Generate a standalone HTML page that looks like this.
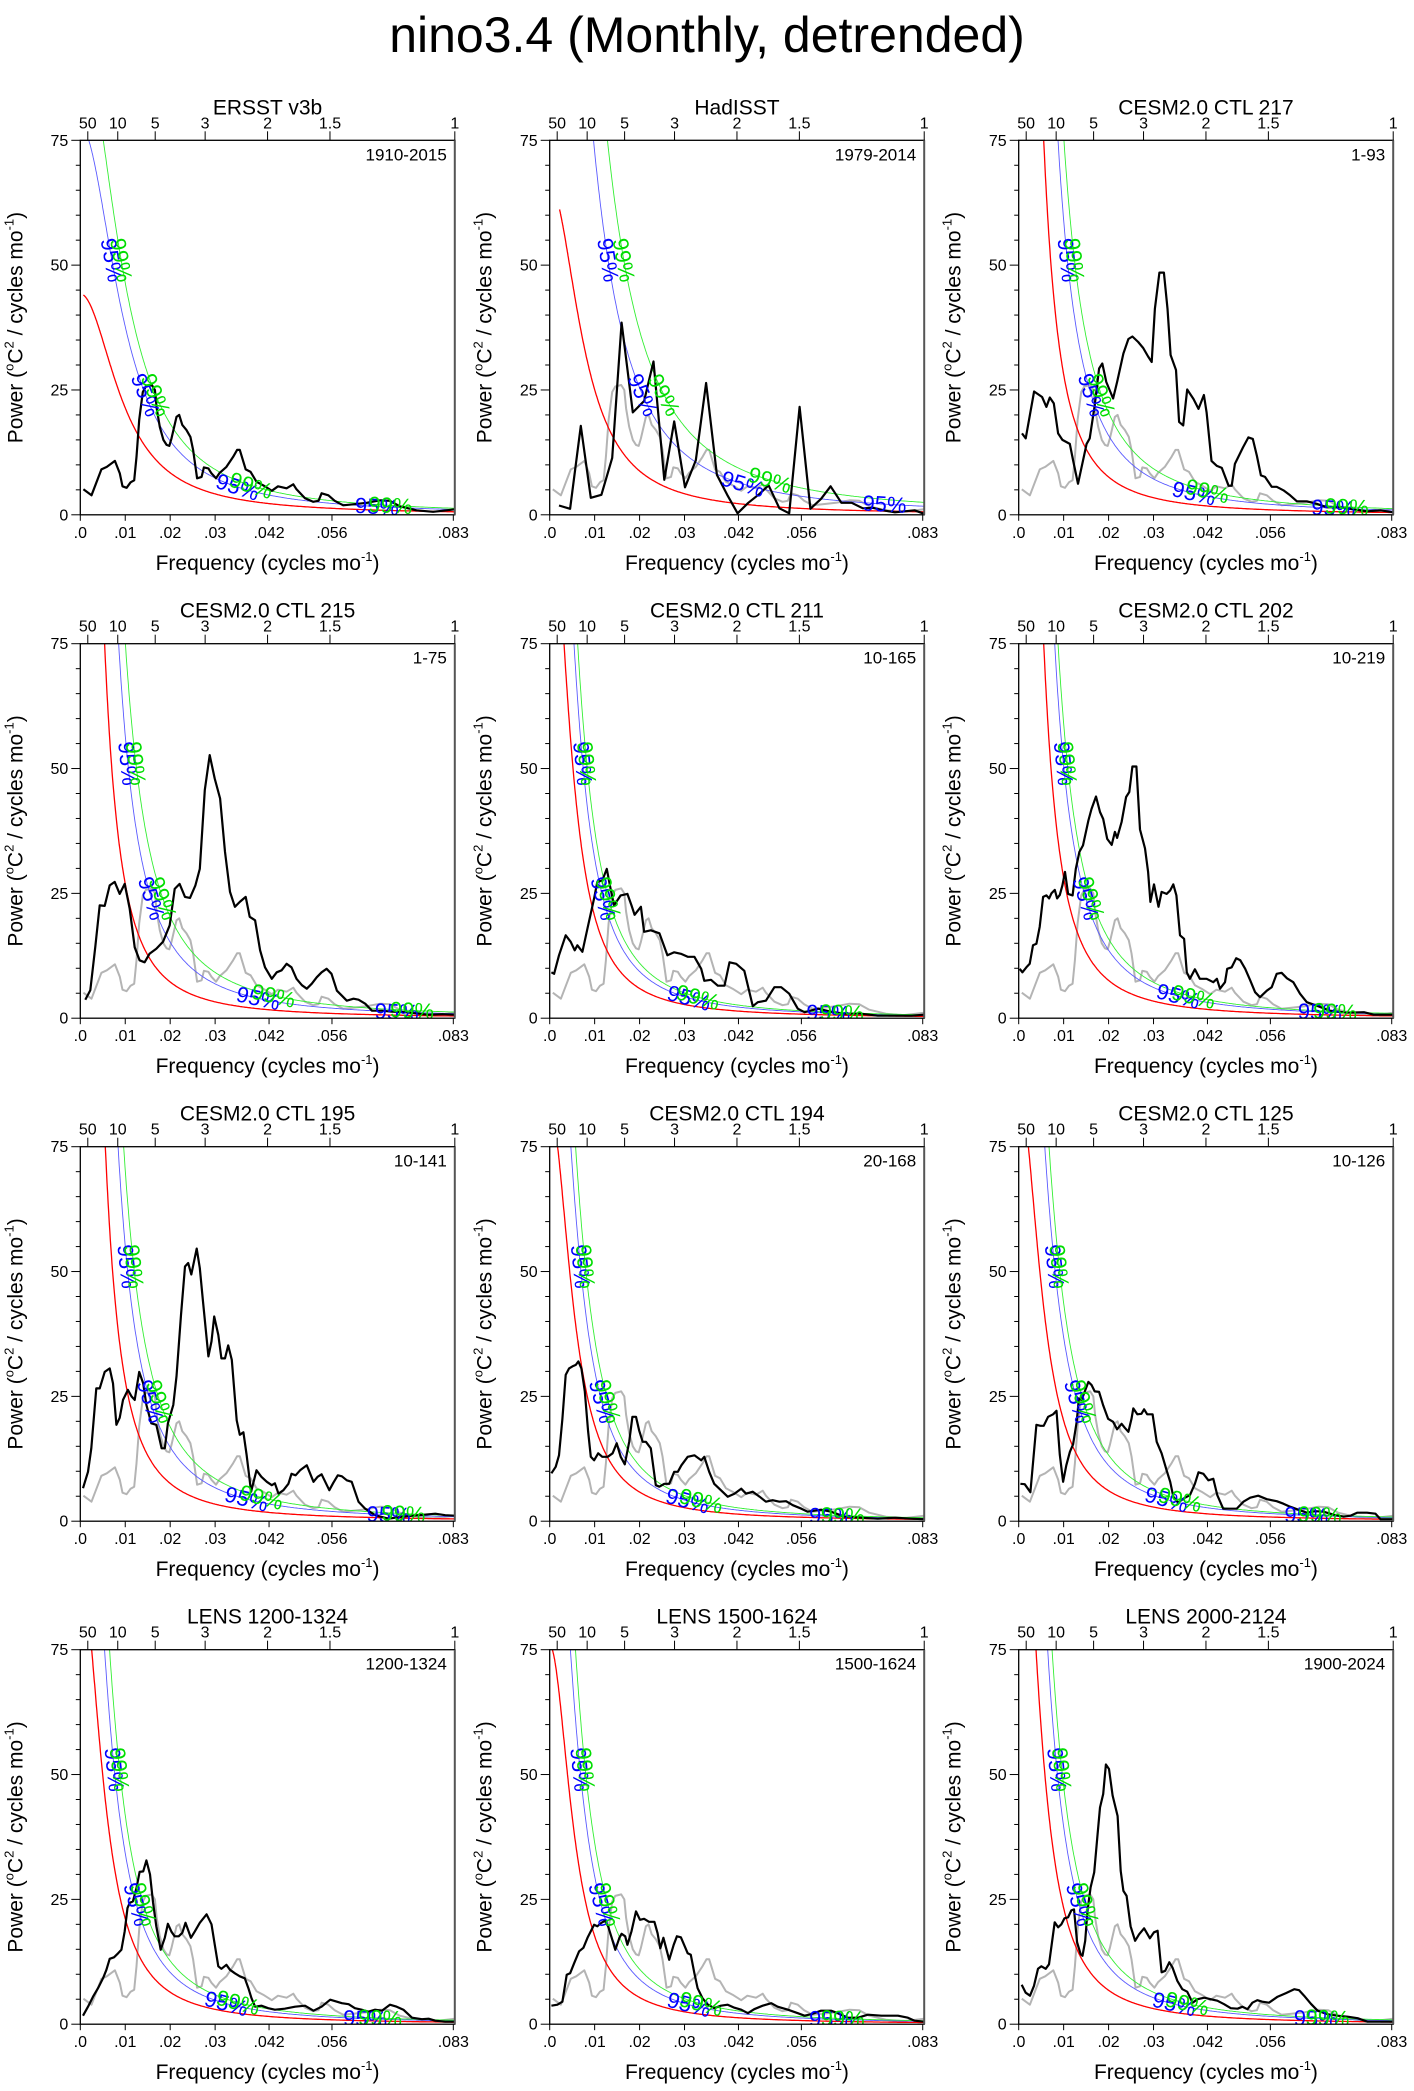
<!DOCTYPE html>
<html><head><meta charset="utf-8"><title>nino3.4 (Monthly, detrended)</title>
<style>
html,body{margin:0;padding:0;background:#fff;}
svg{display:block;font-family:"Liberation Sans",Arial,sans-serif;}
</style></head>
<body>
<svg id="fig" width="1414" height="2091" viewBox="0 0 1414 2091" xmlns="http://www.w3.org/2000/svg">
<rect x="0" y="0" width="1414" height="2091" fill="#fff"/>
<text x="707" y="52" font-size="50" text-anchor="middle" fill="#000">nino3.4 (Monthly, detrended)</text>
</svg>
<script>
// ---- data (frequency in 1e-3 cycles/mo, power in degC^2/(cycles/mo)) ----
const fERSST=[0.7,2.5,4.7,5.9,7.7,8.8,9.4,10.3,11.2,12.0,12.5,13.1,13.9,14.6,15.9,16.6,17.0,17.7,18.5,19.2,19.8,20.3,21.4,22.0,22.7,23.6,24.5,25.1,26.0,27.0,27.5,28.5,29.2,30.2,31.0,32.5,34.0,34.9,35.5,36.8,37.9,39.2,40.7,42.6,44.0,45.9,47.4,48.1,50.0,51.8,53.0,53.7,55.2,56.6,58.5,60.7,63.7,66.7,68.9,71.1,74.8,78.5,81.5,83.3];
const pERSST=[5.1,3.9,9.1,9.6,10.8,8.3,5.7,5.4,6.5,6.9,11.6,19,24.6,25.7,26,25,21.3,17.6,15,14,13.8,15.3,19.6,20,18,17,15.6,13,7.3,7.6,9.5,9.3,8.3,7.3,8.4,9.6,11.6,13,13,9.1,8.6,6.6,5.9,4.8,5.7,5.3,6.1,5.1,3.3,2.6,2.8,4.3,3.9,2.8,1.9,2.1,2.4,2.9,2.8,1.7,0.9,0.6,0.9,1.1];
const fHad=[2.08,4.53,6.91,9.14,11.5,13.9,16.0,18.5,21.0,23.1,25.5,27.7,30.1,32.5,34.8,37.2,39.5,41.8,44.2,46.7,48.7,51.1,53.3,55.6,58.0,60.4,62.5,64.9,67.2,69.7,71.9,74.2,76.8,79.0,81.2,83.3];
const pHad=[1.87,1.2,17.8,3.4,4.0,11.4,38.5,20.5,22.8,30.7,7.0,18.7,5.5,10.9,26.4,8.0,4.0,0.3,2.4,4.2,5.9,1.3,0.3,21.6,1.2,3.2,5.7,2.4,2.4,1.3,1.4,0.9,0.5,0.7,0.9,0.2];
const f217=[0.74,1.56,3.42,5.20,6.17,6.91,7.80,8.77,9.73,11.37,12.1,13.2,15.1,15.8,16.9,17.9,18.6,19.5,21.0,21.9,23.3,24.4,25.3,26.6,27.7,28.8,29.6,30.3,31.3,32.3,33.1,33.8,35.0,35.7,36.6,37.5,38.9,40.0,41.2,41.8,42.9,44.1,45.2,46.7,47.4,48.1,49.9,51.1,52.1,53.0,53.9,54.8,56.3,57.4,58.9,60.4,61.9,64.1,66.3,68.6,71.6,74.5,77.5,80.5,83.3];
const p217=[16.3,15.3,24.7,23.6,21.6,23.5,22.3,16.3,15.0,14.2,10.9,6.2,14.2,15.3,21.9,29.3,30.3,26.6,23.3,26.6,32.3,35.2,35.7,34.6,33.4,31.7,30.6,41.3,48.5,48.5,41.3,32.0,29.0,18.6,17.9,25.1,23.2,21.2,24.0,20.5,10.8,9.8,9.4,5.8,5.8,10.2,13.5,15.5,15.2,11.8,7.9,7.6,5.6,5.6,4.9,3.9,2.7,2.7,2.2,1.5,1.5,1.1,0.7,0.9,0.5];
const f215=[1.11,2.23,3.34,4.31,5.42,6.54,7.65,8.77,9.88,11.0,12.1,13.2,14.3,15.4,16.9,18.4,19.9,21.0,22.1,23.3,24.4,25.6,26.6,27.7,28.8,29.9,31.1,32.2,33.3,34.4,35.5,36.8,37.7,38.9,40.0,41.1,42.6,43.7,44.8,45.9,47.0,48.1,49.3,50.4,51.5,52.6,53.7,54.8,55.9,57.1,58.2,59.3,60.8,61.9,63.4,64.9,67.1,69.3,72.3,75.3,77.5,80.5,83.3];
const p215=[3.7,5.6,14.3,22.6,22.5,26.6,27.3,24.9,26.9,21.9,14.2,11.6,11.2,12.9,13.9,15.3,18.6,25.9,26.9,24.3,24.1,26.6,29.9,45.7,52.7,48.0,44.0,33.3,25.3,22.3,23.3,24.3,20.3,19.6,13.6,10.2,7.9,9.2,9.6,10.9,10.2,7.9,6.6,5.9,6.9,8.2,9.2,9.9,8.9,5.5,4.5,3.5,3.9,3.7,2.9,1.5,1.5,1.3,1.2,0.9,0.7,0.8,0.7];
const f211=[0.37,0.97,2.08,3.57,4.68,5.57,6.17,7.28,8.40,9.88,10.6,11.7,12.7,13.4,14.3,15.8,17.3,18.2,18.9,20.3,21.0,22.5,24.4,26.2,27.7,29.2,30.7,32.2,33.7,34.4,35.9,37.4,38.9,40.0,41.5,43.3,45.2,46.3,48.1,50.0,51.5,53.3,55.2,56.7,59.7,62.6,65.6,69.3,73.0,76.8,80.5,83.3];
const p211=[9.2,8.9,12.6,16.6,15.3,13.6,14.6,13.3,18.0,24.0,27.3,27.6,29.9,26.6,22.6,24.6,24.9,22.6,20.7,22.3,17.3,17.6,17.0,12.6,13.2,12.9,12.3,12.3,9.9,7.5,7.7,6.5,6.5,11.2,10.9,9.5,2.4,3.2,3.5,6.2,6.2,4.9,1.9,1.2,1.9,1.3,0.9,0.9,0.5,0.5,0.5,0.7];
const f202=[0.22,0.82,1.71,2.45,3.19,3.94,4.68,5.42,6.17,6.76,7.28,8.03,8.55,9.14,9.73,10.3,11.0,12.0,12.7,13.5,14.3,15.5,16.2,17.2,18.1,18.8,19.7,20.7,21.4,21.9,22.9,23.9,24.6,25.3,26.2,27.0,28.1,28.8,29.3,30.1,31.1,31.8,32.9,33.7,34.4,35.1,35.9,36.8,37.4,38.1,39.2,40.3,41.8,43.3,44.1,44.8,45.9,46.4,47.4,48.4,49.3,50.4,51.5,52.6,53.7,55.2,56.3,57.4,58.5,59.7,61.1,62.6,64.1,66.3,69.3,73.0,76.8,79.0,81.2,83.3];
const p202=[9.9,9.2,10.2,10.9,14.6,14.9,18.3,24.3,24.6,24.0,25.0,25.7,24.0,24.7,26.6,29.3,24.9,24.6,29.9,33.3,34.6,39.6,41.9,44.4,41.3,39.9,35.9,34.7,37.3,36.1,39.3,44.3,45.3,50.4,50.4,37.8,34.0,29.3,23.3,26.8,22.3,25.3,24.9,25.6,26.8,24.6,16.6,15.9,9.2,7.9,9.8,7.9,7.9,7.2,7.9,5.9,7.2,9.9,10.2,12.0,11.6,9.9,7.6,5.2,4.2,5.5,6.2,8.9,9.1,8.0,7.2,4.9,3.2,2.5,1.5,1.1,1.2,0.7,0.7,0.7];
const f195=[0.59,1.71,2.45,3.57,4.31,5.42,6.54,7.28,8.03,8.77,9.51,10.6,11.4,12.1,13.1,14.0,14.7,15.8,16.9,18.1,18.8,19.5,20.7,21.4,22.4,23.3,24.0,24.7,25.9,26.6,27.3,28.5,29.2,29.8,30.7,31.4,32.2,32.9,33.7,34.8,35.5,36.3,37.0,38.0,39.2,40.3,41.5,42.6,43.3,44.1,45.2,46.3,47.0,47.9,48.9,50.4,51.9,52.8,53.7,55.4,56.3,57.3,58.2,59.3,60.4,61.9,63.4,65.6,68.6,71.6,75.3,79.0,81.2,83.3];
const p195=[6.6,9.9,14.6,26.6,26.6,29.9,30.6,27.6,19.3,20.7,24.3,26.3,25.0,24.3,29.9,27.6,23.3,19.6,19.3,14.6,14.6,19.6,23.3,29.0,41.3,51.0,51.7,49.4,54.6,50.7,44.0,33.0,36.0,41.0,37.3,32.6,32.6,35.2,32.3,20.2,17.3,17.8,13.3,5.9,10.2,8.9,7.9,7.2,7.6,5.5,6.2,7.5,9.5,9.2,10.2,11.2,7.9,8.9,9.4,6.2,7.7,9.2,9.0,8.2,7.9,3.9,2.5,1.2,0.5,0.9,1.2,1.5,1.2,1.1];
const f194=[0.37,1.34,2.08,2.82,3.57,4.31,5.05,5.80,6.39,7.06,7.80,8.55,9.14,9.88,10.8,11.7,12.9,14.0,14.9,15.8,16.7,17.7,18.4,19.2,19.9,20.7,21.4,22.5,23.6,24.4,25.5,26.6,27.7,28.5,29.3,30.7,32.2,33.7,34.4,35.5,36.6,38.1,39.6,41.1,42.6,43.7,45.2,46.7,48.1,49.6,51.1,52.6,54.1,56.0,57.4,60.4,62.6,65.6,69.3,73.0,76.8,80.5,83.3];
const p194=[9.6,10.9,13.2,20.5,29.3,30.6,31.0,31.3,32.0,30.6,26.0,18.0,12.9,12.2,13.6,12.9,12.9,13.6,15.6,12.9,11.4,15.9,20.9,20.9,18.2,15.9,15.9,14.6,7.2,6.9,7.5,7.5,9.9,9.9,11.2,12.9,13.2,12.2,12.9,9.9,7.5,6.2,4.9,5.5,6.5,5.5,5.9,4.9,3.9,4.2,3.9,4.0,3.2,2.5,1.9,2.3,1.9,0.9,0.7,0.5,0.7,0.5,0.4];
const f125=[0.37,1.34,2.60,3.94,4.83,5.57,6.54,7.65,8.40,9.14,9.88,10.6,11.4,12.1,12.9,13.4,14.0,14.7,15.5,16.2,16.9,17.9,18.8,19.9,21.0,21.9,22.9,23.6,24.4,25.1,25.5,26.4,27.3,27.9,28.6,29.8,30.7,31.8,32.9,33.7,34.4,35.5,36.6,38.1,39.2,40.0,41.1,42.2,43.3,44.2,45.5,47.0,48.5,50.0,51.5,53.3,55.2,57.4,58.9,60.4,61.9,64.1,66.0,67.8,70.1,72.3,73.8,75.3,77.5,79.4,80.5,83.3];
const p125=[7.5,7.4,5.8,19.3,19.1,19.1,20.9,21.4,22.1,13.3,7.9,11.2,13.9,15.4,19.9,24.6,24.3,26.0,27.9,27.3,26.0,25.9,23.2,20.5,19.9,18.4,19.5,18.7,17.9,20.5,22.6,21.4,21.5,22.4,21.4,21.4,15.9,13.6,10.2,7.9,4.9,3.7,4.5,5.2,7.5,9.8,9.5,8.2,8.5,5.2,2.5,2.5,2.5,3.9,4.7,5.1,4.4,4.0,3.5,2.9,2.4,1.7,2.0,1.9,1.3,0.9,1.1,1.7,1.7,1.5,0.4,0.4];
const fL1200=[0.59,1.71,2.82,3.94,5.05,5.80,6.54,7.50,8.40,9.14,9.88,10.5,11.0,11.7,12.5,13.2,14.0,14.7,15.5,16.2,16.9,17.9,18.8,19.5,20.3,21.0,21.9,22.7,23.4,24.6,25.5,26.6,28.1,29.2,29.9,30.7,31.4,32.5,33.3,34.4,35.5,36.6,37.4,38.1,38.9,40.3,41.8,43.3,45.5,47.8,50.0,51.9,53.7,55.6,57.1,58.2,59.7,61.1,62.6,64.1,65.6,67.1,68.9,70.4,71.9,73.8,76.0,77.5,79.0,81.2,83.3];
const pL1200=[1.7,3.5,5.5,7.2,9.2,10.9,13.1,13.4,14.2,14.9,18.6,23.3,24.3,24.6,27.3,30.5,30.6,32.8,30.0,24.3,19.6,14.9,17.3,20.1,18.5,17.6,17.6,18.3,20.3,17.3,18.6,20.3,22.0,20.0,16.0,11.6,11.1,11.9,10.9,10.2,9.6,9.2,7.2,5.2,3.5,3.7,3.2,2.9,3.1,3.5,3.7,2.7,3.5,4.9,4.5,4.2,4.0,3.2,2.9,2.5,2.9,2.7,3.9,3.5,2.9,1.3,1.0,1.1,0.7,0.5,0.5];
const fL1500=[0.37,1.71,2.82,3.79,4.53,5.42,6.54,7.50,8.40,9.14,9.88,10.6,11.5,12.3,13.0,13.8,14.6,15.5,16.0,16.8,17.3,18.2,19.2,20.1,21.0,22.1,23.3,24.0,24.6,25.3,26.6,27.6,28.3,29.2,29.9,30.7,31.4,32.2,32.9,34.0,35.1,36.6,38.1,39.6,41.1,42.6,44.1,45.5,47.4,49.3,50.7,53.0,55.2,56.7,58.2,60.4,62.6,64.1,66.3,68.6,70.8,73.8,77.5,79.7,81.2,83.3];
const pL1500=[3.7,3.9,4.5,9.9,10.2,12.2,14.6,15.3,17.3,18.6,19.9,19.6,20.3,20.7,19.6,17.3,14.9,17.3,18.1,17.6,15.9,18.6,22.6,20.9,21.1,20.5,20.5,18.2,15.2,17.3,12.9,15.9,17.6,17.4,15.9,14.2,13.9,10.2,7.2,5.2,4.0,3.2,3.7,3.9,3.3,2.9,2.2,3.0,3.7,4.2,3.5,2.9,2.2,1.7,2.0,2.7,2.7,2.2,1.3,1.3,1.9,1.7,1.7,1.3,0.7,0.5];
const fL2000=[0.67,1.56,2.52,3.41,4.30,5.05,6.01,6.75,8.01,8.76,9.50,10.2,11.0,11.7,12.3,13.0,13.8,14.2,14.8,15.3,16.0,16.8,17.5,18.1,18.8,19.4,20.1,20.9,22.0,22.7,23.3,24.0,24.9,25.9,26.8,27.9,29.2,30.1,30.9,31.8,32.6,33.5,34.2,35.3,36.4,37.5,38.7,39.8,41.3,42.7,44.2,45.7,47.2,48.7,49.8,50.9,52.0,53.1,54.2,55.7,57.6,59.4,61.3,62.4,63.5,65.0,66.5,68.7,70.9,73.2,75.4,77.6,80.6,83.3];
const pL2000=[7.9,6.3,5.7,7.7,11.1,11.6,11.1,12.0,20.4,19.4,20.0,21.2,21.4,22.8,23.0,16.4,14.0,13.7,16.7,22.7,27.4,30.4,37.4,43.4,46.1,52.0,51.1,45.8,41.7,30.7,26.7,25.7,19.6,16.7,18.0,19.2,17.2,18.4,18.7,10.4,10.7,12.4,11.4,8.7,7.0,6.5,4.3,5.0,5.3,5.0,4.7,4.0,3.2,3.1,3.5,3.0,4.3,4.8,4.5,4.3,5.5,6.2,7.0,6.8,5.7,4.1,2.7,2.0,1.7,1.5,1.2,0.5,0.5,0.5];

// panel meta
const panelTitles=["ERSST v3b","HadISST","CESM2.0 CTL 217","CESM2.0 CTL 215","CESM2.0 CTL 211","CESM2.0 CTL 202","CESM2.0 CTL 195","CESM2.0 CTL 194","CESM2.0 CTL 125","LENS 1200-1324","LENS 1500-1624","LENS 2000-2124"];
const panelPeriods=["1910-2015","1979-2014","1-93","1-75","10-165","10-219","10-141","20-168","10-126","1200-1324","1500-1624","1900-2024"];
const panelFreq=[fERSST,fHad,f217,f215,f211,f202,f195,f194,f125,fL1200,fL1500,fL2000];
const panelPower=[pERSST,pHad,p217,p215,p211,p202,p195,p194,p125,pL1200,pL1500,pL2000];
// AR1 red-noise parameters (lag-1 autocorrelation, scale) and confidence multipliers
const redR=[0.941,0.952,0.98,0.98,0.97,0.98,0.98,0.966,0.966,0.966,0.966,0.97];
const redC=[0.154,0.152,0.12,0.115,0.0965,0.12,0.12,0.0956,0.10,0.105,0.0877,0.11];
const conf95=[1.76,2.9,2.1,2.1,1.57,1.8,1.96,1.57,1.83,1.62,1.68,1.7];
const conf99=[2.17,4.2,2.7,2.8,1.85,2.1,2.5,1.9,2.17,1.98,2.06,2.05];
const redStart=[0.7,2.2,0.5,0.5,0.5,0.5,0.5,0.5,0.5,0.5,0.5,0.5];
const lab3b=[35,43,39,39.6,31,35.5,37,30.7,32.9,32.5,31,34.6];
const lab3g=[38,49,42,43,33,38.9,40.3,33.7,35.9,35.1,33.7,37.5];
const lab4b=[66,74.5,70,70.4,62,67,68.6,62.6,64,63.4,62.6,66.1];
const lab4g=[69,0,73,73.8,65,70.4,71.9,65.2,67,66.7,65.2,68.7];
const yTicks=[0,25,50,75];
const xTicks=[0,0.01,0.02,0.03,0.042,0.056,0.083];
const xTickLabels=[".0",".01",".02",".03",".042",".056",".083"];
const periodTicks=[50,10,5,3,2,1.5,1];

// ---- drawing ----
const NS="http://www.w3.org/2000/svg";
const svg=document.getElementById('fig');
const colL=[80.3,549.7,1018.7], rowT=[140.3,643.7,1146.7,1649.7];
const W=374.5, H=374.5, FMAX=0.08333, YMAX=75;
function mk(tag,attrs,parent){const e=document.createElementNS(NS,tag);for(const k in attrs)e.setAttribute(k,attrs[k]);(parent||svg).appendChild(e);return e;}
function red(i,f){const r=redR[i];return redC[i]/(1+r*r-2*r*Math.cos(2*Math.PI*f));}

panelTitles.forEach((title,i)=>{
  const L=colL[i%3], T=rowT[Math.floor(i/3)];
  const xS=f=>L+f/FMAX*W;
  const yS=v=>T+H-v/YMAX*H;
  const g=mk('g',{});
  
  
  const cp=mk('clipPath',{id:'clip'+i},g);
  mk('rect',{x:L,y:T,width:W,height:H},cp);
  const plot=mk('g',{'clip-path':'url(#clip'+i+')'},g);
  
  

  if(i>0){
    let d='';fERSST.forEach((f,k)=>{d+=(k?'L':'M')+xS(f/1000).toFixed(1)+','+yS(pERSST[k]).toFixed(1);});
    const gl=mk('path',{d:d,fill:'none',stroke:'#b4b4b4','stroke-width':2,'stroke-linejoin':'round'},plot);
    
    
  }
  const curves=[[1,'#ff0000',1.3,'red-noise-line'],[conf95[i],'#5a5aff',0.9,'conf-95-line'],[conf99[i],'#33ee33',0.9,'conf-99-line']];
  curves.forEach(c=>{
    let d='';const f0=redStart[i]/1000;
    for(let k=0;k<=400;k++){const f=f0+(FMAX-f0)*Math.pow(k/400,1.6);let v=red(i,f)*c[0];if(v>200)v=200;d+=(k?'L':'M')+xS(f).toFixed(1)+','+yS(v).toFixed(1);}
    const p=mk('path',{d:d,fill:'none',stroke:c[1],'stroke-width':c[2]},plot);
    
    
  });
  const fa=panelFreq[i], pa=panelPower[i];
  let d='';const n=Math.min(fa.length,pa.length);
  for(let k=0;k<n;k++){d+=(k?'L':'M')+xS(fa[k]/1000).toFixed(1)+','+yS(pa[k]).toFixed(1);}
  const bl=mk('path',{d:d,fill:'none',stroke:'#000','stroke-width':2.2,'stroke-linejoin':'round'},plot);
  
  

  function fAt(mult,V){let lo=0.0002,hi=FMAX;for(let k=0;k<60;k++){const m=(lo+hi)/2;if(red(i,m)*mult>V)lo=m;else hi=m;}return (lo+hi)/2;}
  function label(mult,f,txt,col){
    if(f<=0||f>FMAX)return;
    const x=xS(f),y=yS(red(i,f)*mult);
    const x2=xS(f+0.0003),y2=yS(red(i,f+0.0003)*mult);
    const ang=Math.atan2(y2-y,x2-x)*180/Math.PI;
    const t=mk('text',{x:x,y:y,'font-size':22,fill:col,'text-anchor':'middle','dominant-baseline':'central',transform:'rotate('+ang.toFixed(1)+' '+x.toFixed(1)+' '+y.toFixed(1)+')'},plot);
    t.textContent=txt;
    
    
  }
  label(conf95[i],fAt(conf95[i],51),'95%','#0000ff');
  label(conf99[i],fAt(conf99[i],51),'99%','#00dd00');
  label(conf95[i],fAt(conf95[i],24),'95%','#0000ff');
  label(conf99[i],fAt(conf99[i],24),'99%','#00dd00');
  label(conf95[i],lab3b[i]/1000,'95%','#0000ff');
  label(conf99[i],lab3g[i]/1000,'99%','#00dd00');
  label(conf95[i],lab4b[i]/1000,'95%','#0000ff');
  if(lab4g[i]>0)label(conf99[i],lab4g[i]/1000,'99%','#00dd00');

  const fr=mk('rect',{x:L,y:T,width:W,height:H,fill:'none',stroke:'#000','stroke-width':1.3},g);
  
  
  mk('line',{x1:L+W,y1:T,x2:L+W,y2:T+H,stroke:'#555','stroke-width':2},g);

  for(let v=0;v<=75;v+=5){const y=yS(v);const major=yTicks.includes(v);mk('line',{x1:L-(major?9:4.5),y1:y,x2:L,y2:y,stroke:'#000','stroke-width':1},g);}
  yTicks.forEach(v=>{const t=mk('text',{x:L-12,y:yS(v)+5.5,'font-size':16,'text-anchor':'end',fill:'#000'},g);t.textContent=String(v);
    
    });
  xTicks.forEach((f,k)=>{const x=xS(f);mk('line',{x1:x,y1:T+H,x2:x,y2:T+H+6,stroke:'#000','stroke-width':1},g);
    const t=mk('text',{x:x,y:T+H+23,'font-size':16,'text-anchor':'middle',fill:'#000'},g);t.textContent=xTickLabels[k];
    
    });
  periodTicks.forEach(p=>{const x=xS(1/(12*p));mk('line',{x1:x,y1:T-9,x2:x,y2:T,stroke:'#000','stroke-width':1},g);
    const t=mk('text',{x:x,y:T-12,'font-size':16,'text-anchor':'middle',fill:'#000'},g);t.textContent=String(p);
    
    });
  const tt=mk('text',{x:L+W/2,y:T-26,'font-size':21,'text-anchor':'middle',fill:'#000'},g);tt.textContent=title;
  
  
  const pt=mk('text',{x:L+W-8,y:T+20,'font-size':17,'text-anchor':'end',fill:'#000'},g);pt.textContent=panelPeriods[i];
  
  
  const xt=mk('text',{x:L+W/2,y:T+H+55,'font-size':21,'text-anchor':'middle',fill:'#000'},g);
  
  
  xt.innerHTML='Frequency (cycles mo<tspan dy="-9" font-size="13">-1</tspan><tspan dy="9">)</tspan>';
  const yx=L-58, yy=T+H/2;
  const yt=mk('text',{x:yx,y:yy,'font-size':21,'text-anchor':'middle',fill:'#000',transform:'rotate(-90 '+yx+' '+yy+')'},g);
  
  
  yt.innerHTML='Power (<tspan dy="-9" font-size="13">o</tspan><tspan dy="9">C</tspan><tspan dy="-9" font-size="13">2</tspan><tspan dy="9"> / cycles mo</tspan><tspan dy="-9" font-size="13">-1</tspan><tspan dy="9">)</tspan>';
});
</script>
</body></html>
